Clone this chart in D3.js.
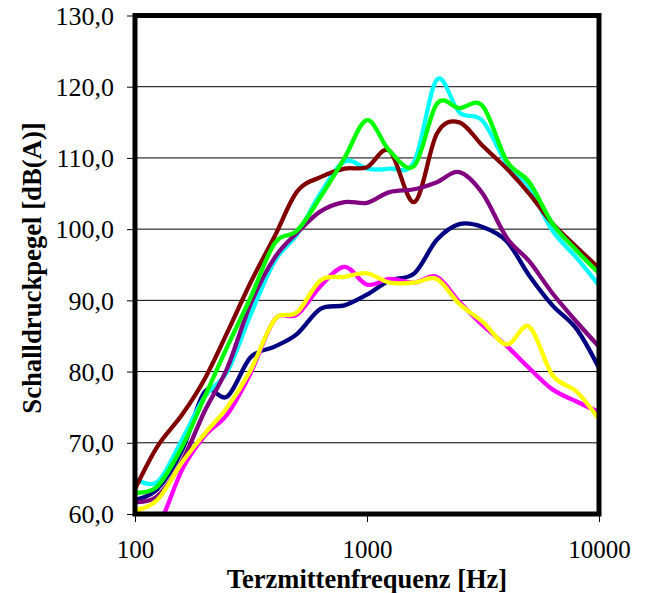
<!DOCTYPE html>
<html>
<head>
<meta charset="utf-8">
<script src="https://cdn.jsdelivr.net/npm/d3@7"></script>
<style>
  body { margin: 0; background: #fff; }
  svg { display: block; }
</style>
</head>
<body>
<div id="chart"></div>
<script>
"use strict";
// third-octave band centre frequencies
const freqs = [100, 125, 160, 200, 250, 315, 400, 500, 630, 800, 1000, 1250, 1600, 2000, 2500, 3150, 4000, 5000, 6300, 8000, 10000];

const navy    = [62, 63.5, 69, 77.2, 76.5, 82, 83.5, 85.3, 88.8, 89.3, 90.8, 92.8, 93.8, 98.5, 100.7, 100.3, 98.3, 93.5, 89.3, 86, 80.5];
const cyan    = [65, 64.5, 70.5, 76.5, 80, 88, 95.5, 99.3, 105, 109.5, 108.5, 108.5, 109.5, 121, 116.4, 115.2, 109.2, 105.9, 99.8, 96, 92.1];
const maroon  = [63.5, 69.5, 74, 79, 85.5, 92.5, 99, 105.3, 107.3, 108.5, 108.7, 111, 103.8, 113.4, 115, 111.7, 108.5, 105, 100.8, 97.5, 94.5];
const purple  = [61.7, 62.5, 67.5, 74.5, 80.5, 89.5, 96, 99.5, 102.5, 103.8, 103.7, 105.2, 105.6, 106.6, 108, 105, 98.8, 95.5, 91, 87, 83.5];
const green   = [63, 63.9, 69.5, 76.5, 83.5, 90.4, 98, 99.8, 104.5, 110, 115.3, 111, 108.9, 117.6, 117, 117.3, 109.6, 106.6, 100.8, 97, 93.8];
const magenta = [55, 58, 66.3, 71, 74, 79.8, 87.3, 88, 92, 94.7, 92.2, 93, 92.5, 93.3, 89.8, 86.5, 83.6, 80.5, 77.5, 75.8, 74.3];
const yellow  = [60.5, 62, 67.3, 71.3, 75, 80.2, 87.3, 88.3, 92.8, 93.3, 93.8, 92.5, 92.5, 93, 89.5, 87, 83.8, 86.3, 79.5, 77.2, 73.3];

const series = [
    {name: "navy", values: navy, color: "#000080"},
    {name: "cyan", values: cyan, color: "#00FFFF"},
    {name: "maroon", values: maroon, color: "#800000"},
    {name: "purple", values: purple, color: "#800080"},
    {name: "green", values: green, color: "#00FF00"},
    {name: "magenta", values: magenta, color: "#FF00FF"},
    {name: "yellow", values: yellow, color: "#FFFF00"}
];

const yTicks = [60, 70, 80, 90, 100, 110, 120, 130];
const xTicks = [100, 1000, 10000];

const width = 648, height = 593;
const plotLeft = 135, plotRight = 599, plotTop = 15.5, plotBottom = 514;
const serif = "Liberation Serif";

const x = d3.scaleLog().domain([100, 10000]).range([plotLeft, plotRight]);
const y = d3.scaleLinear().domain([60, 130]).range([plotBottom, plotTop]);

const svg = d3.select("#chart").append("svg")
    .attr("width", width)
    .attr("height", height)
    .attr("viewBox", [0, 0, width, height]);

svg.append("defs").append("clipPath")
    .attr("id", "plot-clip")
  .append("rect")
    .attr("x", plotLeft)
    .attr("y", plotTop)
    .attr("width", plotRight - plotLeft)
    .attr("height", plotBottom - plotTop);

// horizontal grid lines
svg.append("g")
  .selectAll("line")
  .data(yTicks.slice(1, -1))
  .join("line")
    .attr("x1", plotLeft)
    .attr("x2", plotRight)
    .attr("y1", d => y(d))
    .attr("y2", d => y(d))
    .attr("stroke", "#000")
    .attr("stroke-width", 1);

// y axis ticks + labels
const yAxis = d3.axisLeft(y)
    .tickValues(yTicks)
    .tickSize(8)
    .tickPadding(13)
    .tickFormat(d => d3.format(".1f")(d).replace(".", ","));

svg.append("g")
    .attr("transform", `translate(${plotLeft},0)`)
    .call(yAxis)
    .call(g => g.select(".domain").remove())
    .call(g => g.selectAll("line").attr("stroke", "#000").attr("stroke-width", 1))
    .call(g => g.selectAll("text")
        .style("font-family", serif)
        .style("font-size", "26px")
        .attr("fill", "#000")
        .attr("dy", "0.34em"));

const xAxis = d3.axisBottom(x)
    .tickValues(xTicks)
    .tickSize(8)
    .tickPadding(0)
    .tickFormat(d3.format("d"));

svg.append("g")
    .attr("transform", `translate(0,${plotBottom})`)
    .call(xAxis)
    .call(g => g.select(".domain").remove())
    .call(g => g.selectAll("line").attr("stroke", "#000").attr("stroke-width", 1))
    .call(g => g.selectAll("text")
        .style("font-family", serif)
        .style("font-size", "25px")
        .attr("fill", "#000")
        .attr("y", 44)
        .attr("dy", 0));

// the curves (Excel smoothed lines)
const line = d3.line()
    .x((d, i) => x(freqs[i]))
    .y(d => y(d))
    .curve(d3.curveCatmullRom.alpha(0));

svg.append("g")
    .attr("clip-path", "url(#plot-clip)")
    .attr("fill", "none")
    .attr("stroke-width", 4.3)
    .attr("stroke-linejoin", "round")
    .attr("stroke-linecap", "round")
  .selectAll("path")
  .data(series)
  .join("path")
    .attr("stroke", d => d.color)
    .attr("d", d => line(d.values));

// plot frame
svg.append("rect")
    .attr("x", plotLeft)
    .attr("y", plotTop)
    .attr("width", plotRight - plotLeft)
    .attr("height", plotBottom - plotTop)
    .attr("fill", "none")
    .attr("stroke", "#000")
    .attr("stroke-width", 5);

// axis titles
svg.append("text")
    .attr("x", 367)
    .attr("y", 588)
    .attr("text-anchor", "middle")
    .style("font-family", serif)
    .style("font-weight", "bold")
    .style("font-size", "26.5px")
    .text("Terzmittenfrequenz [Hz]");

svg.append("text")
    .attr("transform", "translate(41,268) rotate(-90)")
    .attr("text-anchor", "middle")
    .style("font-family", serif)
    .style("font-weight", "bold")
    .style("font-size", "26.7px")
    .text("Schalldruckpegel [dB(A)]");
</script>
</body>
</html>
